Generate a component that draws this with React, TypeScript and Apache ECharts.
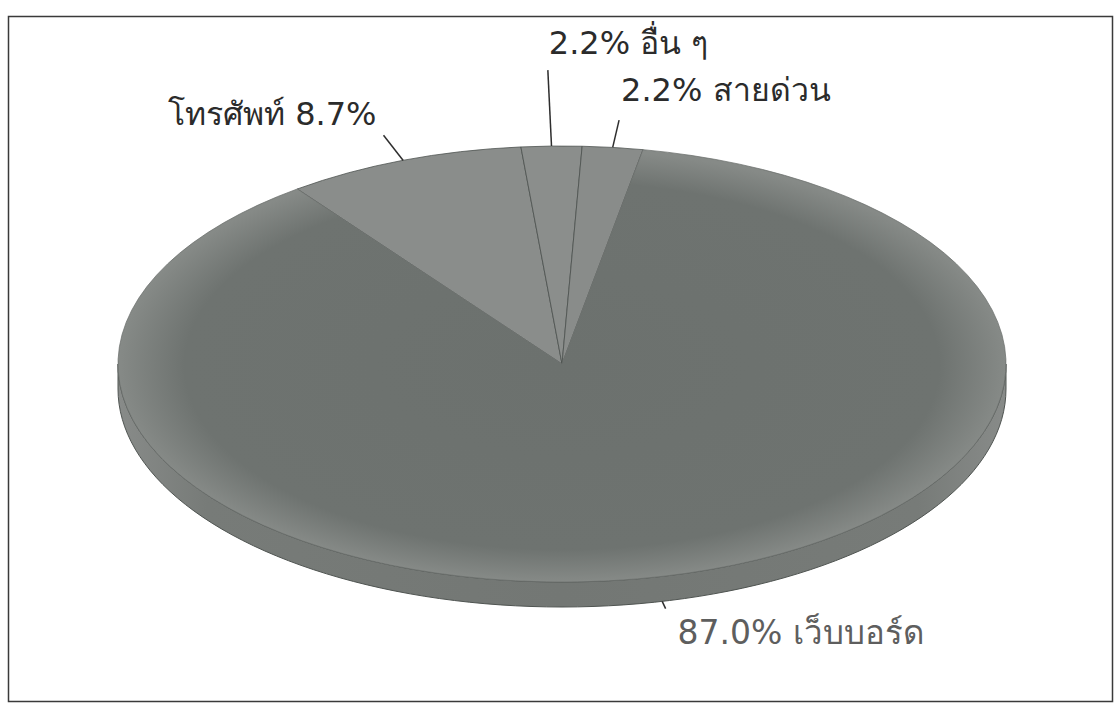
import React, { useEffect, useRef } from "react";
import * as echarts from "echarts";

// ---- data ----
const categories = ["โทรศัพท์", "อื่น ๆ", "สายด่วน", "เว็บบอร์ด"];
const values = [8.7, 2.2, 2.2, 87.0];
// label text order: true = "name value%", false = "value% name"
const nameFirst = [true, false, false, false];

// ---- layout / style (not data) ----
const CX = 562;
const CY = 364;
const RX = 444;
const RY = 218;
const DEPTH = 25;
const START_DEG = -36.6; // clockwise from 12 o'clock
const leaderLen = [32, 76, 28, 8];
const labelOffset: [number, number, "left" | "right"][] = [
  [-7, -21, "right"],
  [1, -27, "left"],
  [2, -30, "left"],
  [12, 24, "left"],
];
const labelSize = [32, 32, 32, 33];
const labelColor = ["#2b2b2b", "#2b2b2b", "#2b2b2b", "#5e5e5e"];
const sliceFill: any[] = [
  "#8a8d8b",
  "#8b8e8c",
  "#898c8a",
  {
    type: "radial",
    x: 0.5,
    y: 0.5,
    r: 0.5,
    colorStops: [
      { offset: 0, color: "#6c716e" },
      { offset: 0.85, color: "#6e7370" },
      { offset: 1, color: "#868a87" },
    ],
  },
];
const FONT = '"DejaVu Sans", "Noto Sans", Tahoma, sans-serif';

export default function App() {
  const ref = useRef<HTMLDivElement>(null);
  useEffect(() => {
    if (!ref.current) return;
    const chart = echarts.init(ref.current, undefined, { renderer: "svg" });
    const total = values.reduce((a, b) => a + b, 0);
    const ranges: [number, number][] = [];
    let acc = START_DEG;
    values.forEach((v) => {
      const span = (v / total) * 360;
      ranges.push([acc, acc + span]);
      acc += span;
    });
    const pt = (deg: number, dy = 0): [number, number] => {
      const r = (deg * Math.PI) / 180;
      return [CX + RX * Math.sin(r), CY - RY * Math.cos(r) + dy];
    };

    chart.setOption({
      animation: false,
      backgroundColor: "#ffffff",
      graphic: [
        {
          type: "rect",
          shape: { x: 8.5, y: 16.5, width: 1104, height: 685 },
          style: { fill: "none", stroke: "#3a3a3a", lineWidth: 1.5 },
          z: 0,
        },
      ],
      series: [
        {
          type: "custom",
          coordinateSystem: "none",
          data: values.map((v, i) => ({ name: categories[i], value: v })),
          renderItem: (params: any) => {
            const i = params.dataIndex;
            const [a0, a1] = ranges[i];
            const children: any[] = [];
            // 3D side band for the front half
            const lo = Math.max(a0, 90);
            const hi = Math.min(a1, 270);
            if (hi > lo) {
              const top: [number, number][] = [];
              const bot: [number, number][] = [];
              const N = 90;
              for (let k = 0; k <= N; k++) {
                const t = lo + ((hi - lo) * k) / N;
                top.push(pt(t));
                bot.push(pt(t, DEPTH));
              }
              children.push({
                type: "polygon",
                shape: { points: top.concat(bot.reverse()) },
                style: {
                  fill: {
                    type: "linear",
                    x: 0,
                    y: 0,
                    x2: 1,
                    y2: 0,
                    colorStops: [
                      { offset: 0, color: "#888b89" },
                      { offset: 0.1, color: "#777b78" },
                      { offset: 0.5, color: "#737774" },
                      { offset: 0.9, color: "#777b78" },
                      { offset: 1, color: "#888b89" },
                    ],
                  },
                  stroke: "#4f5451",
                  lineWidth: 1,
                },
              });
            }
            // top surface sector (ellipse via scaled group)
            const toRad = (d: number) => ((d - 90) * Math.PI) / 180;
            children.push({
              type: "group",
              x: CX,
              y: CY,
              scaleY: RY / RX,
              children: [
                {
                  type: "sector",
                  shape: {
                    cx: 0,
                    cy: 0,
                    r: RX,
                    r0: 0,
                    startAngle: toRad(a0),
                    endAngle: toRad(a1),
                    clockwise: true,
                  },
                  style: {
                    fill: sliceFill[i],
                    stroke: i === 3 ? "#6a6f6c" : "#484d4a",
                    lineWidth: 1,
                    strokeNoScale: true,
                  },
                },
              ],
            });
            // leader + label
            const mid = (a0 + a1) / 2;
            const lower = Math.cos((mid * Math.PI) / 180) < 0;
            const s = pt(mid, lower ? DEPTH : 0);
            const r = (mid * Math.PI) / 180;
            let dx = RX * Math.sin(r);
            let dy = -RY * Math.cos(r);
            const L = Math.hypot(dx, dy);
            dx /= L;
            dy /= L;
            const e: [number, number] = [s[0] + dx * leaderLen[i], s[1] + dy * leaderLen[i]];
            children.push({
              type: "polyline",
              shape: { points: [s, e] },
              style: { stroke: "#2e2e2e", lineWidth: 1.5, fill: "none" },
            });
            const pct = values[i].toFixed(1) + "%";
            const txt = nameFirst[i] ? `${categories[i]} ${pct}` : `${pct} ${categories[i]}`;
            const off = labelOffset[i];
            children.push({
              type: "text",
              x: e[0] + off[0],
              y: e[1] + off[1],
              style: {
                text: txt,
                fill: labelColor[i],
                font: `${labelSize[i]}px ${FONT}`,
                align: off[2],
                verticalAlign: "middle",
              },
            });
            return { type: "group", children };
          },
        },
      ],
    });
    return () => chart.dispose();
  }, []);
  return (
    <div
      ref={ref}
      style={{ position: "absolute", left: 0, top: 0, width: 1119, height: 706 }}
    />
  );
}
